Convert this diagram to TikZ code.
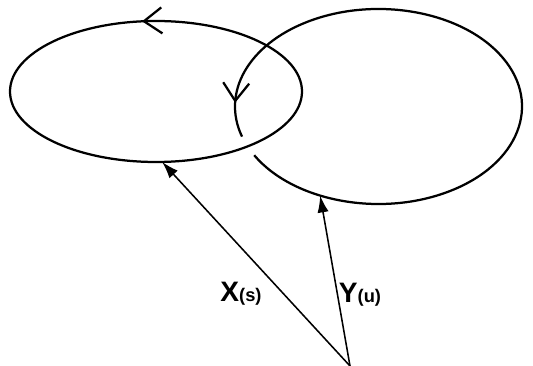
\documentclass[tikz,border=0pt]{standalone}
\usepackage{fontspec}
\setmainfont{Liberation Sans}
\usetikzlibrary{arrows.meta,decorations.markings,calc}

\begin{document}
\begin{tikzpicture}[
                    curve/.style={line width=1.6pt},
                    vec/.style={line width=1.1pt,-{Latex[length=12pt,width=8pt]}},
                    barbtip/.tip={Straight Barb[length=4.5mm,width=6.5mm,line width=1.6pt]},
                    barb/.style={postaction={decorate},decoration={markings,
                        mark=at position #1 with {\arrow{barbtip}}}}
                ]
                    \useasboundingbox (0,0) rectangle (13.325,9.15);
                    \coordinate (cL) at (3.9,6.8625);
                    \coordinate (cR) at (9.4625,6.4875);
                    \coordinate (O) at (8.75,0);
                    \coordinate (xs) at ($(cL)+(272.4:3.65 and 1.7625)$);
                    \coordinate (yu) at ($(cR)+(246:3.5875 and 2.4375)$);
                    \draw[curve,barb=0.27] (cL) ellipse [x radius=3.65, y radius=1.7625];
                    \draw[curve,barb=0.953] ($(cR)+(210:3.5875 and 2.4375)$)
                        arc [start angle=210, end angle=558, x radius=3.5875, y radius=2.4375];
                    \draw[vec] (O) -- (xs);
                    \draw[vec] (O) -- (yu);
                    \node (xlab) at (6.025,1.8) {\bfseries\fontsize{20}{24}\selectfont X\fontsize{13}{15}\selectfont(s)};
                    \node (ylab) at (9.0,1.775) {\bfseries\fontsize{20}{24}\selectfont Y\fontsize{13}{15}\selectfont(u)};
                \end{tikzpicture}
\end{document}
